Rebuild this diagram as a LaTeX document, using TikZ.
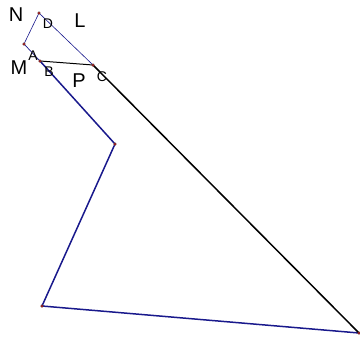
\documentclass[tikz,border=0pt]{standalone}
\usepackage{fontspec}
\setmainfont{Liberation Sans}
\usepackage{tikz}
\usetikzlibrary{calc}
\definecolor{segblue}{RGB}{25,25,140}
\definecolor{ptred}{RGB}{170,20,20}
\tikzset{
  pt/.style={circle,fill=ptred,draw=black!70,line width=0.3pt,inner sep=0pt,minimum size=3pt},
  biglbl/.style={font=\fontsize{20}{20}\selectfont},
  smalllbl/.style={font=\fontsize{14}{14}\selectfont}
}

\begin{document}
\begin{tikzpicture}[x=1pt,y=-1pt]
\useasboundingbox (0,0) rectangle (360,338);
% points
\coordinate (D) at (39,13);
\coordinate (M) at (24,44);
\coordinate (A) at (40,61);
\coordinate (C) at (93,65);
\coordinate (E) at (115,144);
\coordinate (F) at (42,306);
\coordinate (G) at (359,333);
% thin quadrilateral sides
\draw[segblue,line width=0.6pt] (M) -- (D) -- (C);
\draw[segblue,line width=0.7pt] (M) -- (A);
% main polygon
\draw[segblue,line width=1.5pt] (A) -- (E) -- (F) -- (G);
\draw[black,line width=1.5pt] (C) -- (G);
\draw[black,line width=1pt] (A) -- (C);
% dots
\foreach \p in {D,M,A,C,E,F,G}
  \node[pt] at (\p) {};
% labels
\node[biglbl] (lN) at (16,15) {N};
\node[biglbl] (lL) at (80,21) {L};
\node[biglbl] (lM) at (19,68) {M};
\node[biglbl] (lP) at (79,81) {P};
\node[smalllbl] (lD) at (48,24) {D};
\node[smalllbl] (lA) at (33,56) {A};
\node[smalllbl] (lB) at (49,72) {B};
\node[smalllbl] (lC) at (102,77) {C};
\end{tikzpicture}
\end{document}
